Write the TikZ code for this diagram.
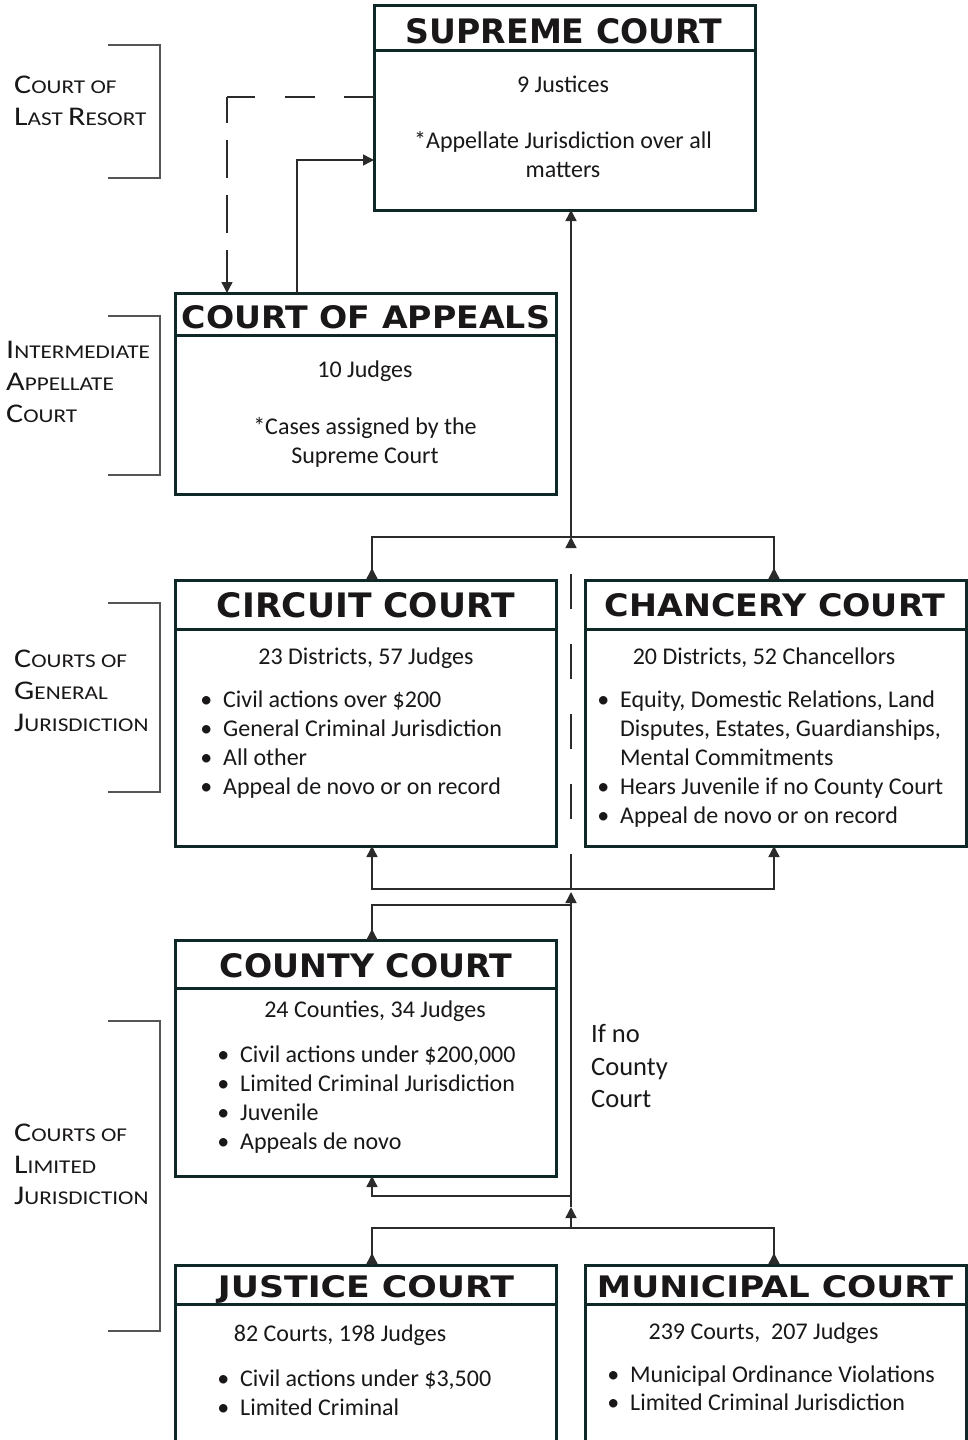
\documentclass[tikz,border=0pt]{standalone}
\usepackage{fontspec}
\usepackage{graphicx}
\setmainfont{Carlito}
\newfontfamily\ttlfont{DejaVu Sans}
\usetikzlibrary{arrows.meta}
\definecolor{boxc}{HTML}{0E2828}
\definecolor{txtc}{HTML}{1A1718}
\definecolor{linec}{HTML}{2B2B2B}
\definecolor{brc}{HTML}{555555}
\newcommand\ttl[3]{\resizebox{#1pt}{#2pt}{\ttlfont\bfseries #3}}
\newcommand\BC[1]{{\fontsize{27}{32}\selectfont #1}}
\newcommand\SC[1]{{\fontsize{19.5}{32}\selectfont #1}}
\newcommand\lbl[1]{\scalebox{1.19}[1]{#1}}
\newcommand\bl{\llap{•\hspace{11pt}}}
\begin{document}
\begin{tikzpicture}[x=1pt,y=-1pt,
  court/.style={draw=boxc, line width=3pt, rectangle, inner sep=0pt, outer sep=0pt},
  divider/.style={draw=boxc, line width=3pt},
  ttlnode/.style={anchor=base, inner sep=0pt, text=txtc},
  txt/.style={anchor=base, inner sep=0pt, text=txtc, font=\fontsize{24}{29}\selectfont},
  txtl/.style={txt, anchor=base west},
  lab/.style={anchor=base west, inner sep=0pt, text=txtc},
  ifno/.style={anchor=base west, inner sep=0pt, text=txtc, font=\fontsize{26.5}{32}\selectfont},
  conn/.style={draw=linec, line width=1.5pt},
  arr/.style={-{Triangle[length=11pt,width=11pt]}},
  arrb/.style={{Triangle[length=11pt,width=11pt]}-{Triangle[length=11pt,width=11pt]}},
  bracket/.style={draw=brc, line width=1.3pt},
]
\clip (0,0) rectangle (968,1440);
\fill[white] (0,0) rectangle (968,1440);

% ---------- boxes ----------
\node[court, minimum width=381pt, minimum height=205pt] (supreme) at (564.5,107.5) {};
\node[court, minimum width=381pt, minimum height=201pt] (appeals) at (365.5,393.5) {};
\node[court, minimum width=381pt, minimum height=266pt] (circuit) at (365.5,713) {};
\node[court, minimum width=381pt, minimum height=266pt] (chancery) at (775.5,713) {};
\node[court, minimum width=381pt, minimum height=236pt] (county) at (365.5,1058) {};
\node[court, minimum width=381pt, minimum height=205pt] (justice) at (365.5,1367.5) {};
\node[court, minimum width=381pt, minimum height=205pt] (municipal) at (775.5,1367.5) {};

% dividers
\draw[divider] (supreme.west |- 0,50) -- (supreme.east |- 0,50);
\draw[divider] (appeals.west |- 0,335) -- (appeals.east |- 0,335);
\draw[divider] (circuit.west |- 0,629) -- (circuit.east |- 0,629);
\draw[divider] (chancery.west |- 0,629) -- (chancery.east |- 0,629);
\draw[divider] (county.west |- 0,988) -- (county.east |- 0,988);
\draw[divider] (justice.west |- 0,1304) -- (justice.east |- 0,1304);
\draw[divider] (municipal.west |- 0,1304) -- (municipal.east |- 0,1304);

% titles
\node[ttlnode] (supT) at (564,43) {\ttl{316}{25}{SUPREME COURT}};
\node[ttlnode] (appT) at (366,328) {\ttl{368}{23}{COURT OF APPEALS}};
\node[ttlnode] (cirT) at (366,617) {\ttl{298}{25}{CIRCUIT COURT}};
\node[ttlnode] (chaT) at (775,616) {\ttl{340}{23}{CHANCERY COURT}};
\node[ttlnode] (couT) at (366,977) {\ttl{292}{24}{COUNTY COURT}};
\node[ttlnode] (jusT) at (366,1297) {\ttl{296}{22}{JUSTICE COURT}};
\node[ttlnode] (munT) at (775,1297) {\ttl{356}{22}{MUNICIPAL COURT}};

% ---------- body texts ----------
\node[txt] (sup1) at (563,92) {9 Justices};
\node[txt] (sup2) at (563,148) {*Appellate Jurisdiction over all};
\node[txt] (sup3) at (563,177) {matters};

\node[txt] (app1) at (365,377) {10 Judges};
\node[txt] (app2) at (365,434) {*Cases assigned by the};
\node[txt] (app3) at (365,463) {Supreme Court};

\node[txt] (cir0) at (366,664) {23 Districts, 57 Judges};
\foreach \t [count=\i] in {{Civil actions over \$200},{General Criminal Jurisdiction},{All other},{Appeal de novo or on record}}
  \node[txtl] (cir\i) at (223,{678+29*\i}) {\bl\t};

\node[txt] (cha0) at (764,664) {20 Districts, 52 Chancellors};
\node[txtl] (cha1) at (620,707) {\bl Equity, Domestic Relations, Land};
\node[txtl] (cha2) at (620,736) {Disputes, Estates, Guardianships,};
\node[txtl] (cha3) at (620,765) {Mental Commitments};
\node[txtl] (cha4) at (620,794) {\bl Hears Juvenile if no County Court};
\node[txtl] (cha5) at (620,823) {\bl Appeal de novo or on record};

\node[txt] (cou0) at (375,1017) {24 Counties, 34 Judges};
\foreach \t [count=\i] in {{Civil actions under \$200,000},{Limited Criminal Jurisdiction},{Juvenile},{Appeals de novo}}
  \node[txtl] (cou\i) at (240,{1033+29*\i}) {\bl\t};

\node[txt] (jus0) at (340,1341) {82 Courts, 198 Judges};
\node[txtl] (jus1) at (240,1386) {\bl Civil actions under \$3,500};
\node[txtl] (jus2) at (240,1415) {\bl Limited Criminal};

\node[txt] (mun0) at (763.5,1339) {239 Courts,\ \ 207 Judges};
\node[txtl] (mun1) at (630,1382) {\bl Municipal Ordinance Violations};
\node[txtl] (mun2) at (630,1410) {\bl Limited Criminal Jurisdiction};

\node[ifno] (ifno1) at (591,1042) {If no};
\node[ifno] (ifno2) at (591,1075) {County};
\node[ifno] (ifno3) at (591,1107) {Court};

% ---------- side labels ----------
\node[lab] (l1a) at (14,93) {\lbl{\BC{C}\SC{OURT OF}}};
\node[lab] (l1b) at (14,125) {\lbl{\BC{L}\SC{AST }\BC{R}\SC{ESORT}}};
\node[lab] (l2a) at (6,358) {\lbl{\BC{I}\SC{NTERMEDIATE}}};
\node[lab] (l2b) at (6,390) {\lbl{\BC{A}\SC{PPELLATE}}};
\node[lab] (l2c) at (6,422) {\lbl{\BC{C}\SC{OURT}}};
\node[lab] (l3a) at (14,667) {\lbl{\BC{C}\SC{OURTS OF}}};
\node[lab] (l3b) at (14,699) {\lbl{\BC{G}\SC{ENERAL}}};
\node[lab] (l3c) at (14,731) {\lbl{\BC{J}\SC{URISDICTION}}};
\node[lab] (l4a) at (14,1141) {\lbl{\BC{C}\SC{OURTS OF}}};
\node[lab] (l4b) at (14,1173) {\lbl{\BC{L}\SC{IMITED}}};
\node[lab] (l4c) at (14,1204) {\lbl{\BC{J}\SC{URISDICTION}}};

\draw[bracket] (108,45) -| (160,178) -- (108,178);
\draw[bracket] (108,316) -| (160,475) -- (108,475);
\draw[bracket] (108,603) -| (160,792) -- (108,792);
\draw[bracket] (108,1021) -| (160,1331) -- (108,1331);

% ---------- connectors ----------
\coordinate (F1) at (571,537);
\coordinate (F2) at (571,889);
\coordinate (F3) at (571,1228);
\coordinate (J1) at (571,905);
\coordinate (J2) at (571,1196);
\coordinate (A2) at (571,892);
\coordinate (A3) at (571,1207);
\coordinate (DC) at (227,97);

\draw[conn, dash pattern=on 30pt off 29.5pt] (supreme.west |- DC) -- (DC);
\draw[conn, arr, dash pattern=on 38pt off 17pt, dash phase=12pt] (DC) -- (appeals.north -| DC);
\draw[conn, arr] (appeals.north -| 297,0) |- (supreme.west |- 0,160);

\draw[conn, arr] (F1) -- (supreme.south -| 571,0);
\draw[conn] (circuit.north -| 372,0) |- (F1) -| (chancery.north -| 774,0);
\draw[conn, arr] (circuit.north -| 372,0) -- ++(0,-12);
\draw[conn, arr] (chancery.north -| 774,0) -- ++(0,-12);

\draw[conn, arr, dash pattern=on 35pt off 35pt] (F2) -- (F1);

\draw[conn, arrb] (circuit.south -| 372,0) |- (F2) -| (chancery.south -| 774,0);

\draw[conn, arr] (county.north -| 372,0) |- (J1) -- (A2);
\draw[conn, arr] (county.north -| 372,0) -- ++(0,-11);

\draw[conn, arr] (F3) -- (A3);
\draw[conn] (A3) -- (J1);
\draw[conn, arr] (J2) -| (county.south -| 372,0);

\draw[conn] (justice.north -| 372,0) |- (F3) -| (municipal.north -| 774,0);
\draw[conn, arr] (justice.north -| 372,0) -- ++(0,-12);
\draw[conn, arr] (municipal.north -| 774,0) -- ++(0,-12);
\end{tikzpicture}
\end{document}
